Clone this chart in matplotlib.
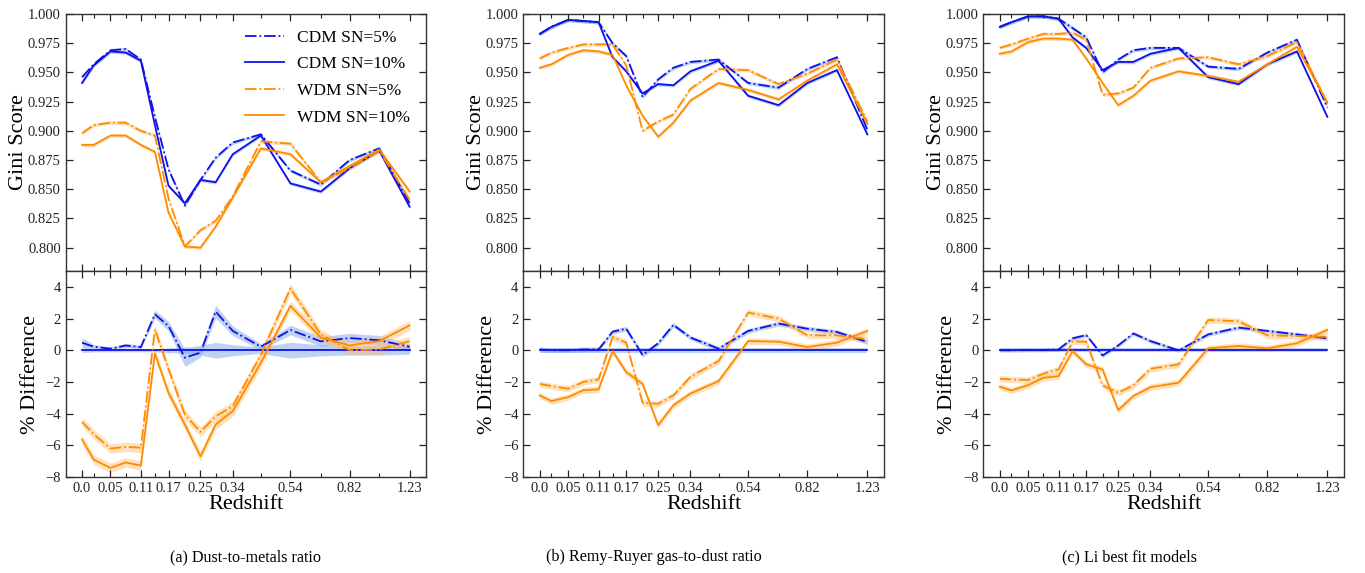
import numpy as np
import matplotlib
matplotlib.use('Agg')
import matplotlib.pyplot as plt

plt.rcParams['font.family'] = ['Liberation Serif', 'DejaVu Serif']
plt.rcParams['mathtext.fontset'] = 'dejavuserif'

# x axis: snapshots placed by lookback time (Gyr), labelled by redshift
lookback = [0.0, 0.30, 0.73, 1.12, 1.51, 1.87, 2.22, 2.64, 3.04, 3.43,
            3.87, 4.59, 5.35, 6.13, 6.87, 7.63, 8.41]
tick_idx = [0, 2, 4, 6, 8, 10, 12, 14, 16]
tick_labels = ['0.0', '0.05', '0.11', '0.17', '0.25', '0.34', '0.54', '0.82', '1.23']

# (a) Dust-to-metals ratio
dtm_cdm5 = [0.946, 0.957, 0.969, 0.970, 0.961, 0.912, 0.867, 0.836, 0.858, 0.877,
            0.890, 0.897, 0.866, 0.854, 0.875, 0.885, 0.838]
dtm_cdm10 = [0.941, 0.956, 0.968, 0.967, 0.960, 0.905, 0.853, 0.838, 0.858, 0.856,
             0.880, 0.896, 0.855, 0.848, 0.868, 0.883, 0.835]
dtm_wdm5 = [0.898, 0.905, 0.907, 0.907, 0.900, 0.896, 0.842, 0.801, 0.815, 0.823,
            0.844, 0.891, 0.889, 0.856, 0.868, 0.883, 0.841]
dtm_wdm10 = [0.888, 0.888, 0.896, 0.896, 0.888, 0.882, 0.830, 0.801, 0.800, 0.818,
             0.843, 0.885, 0.880, 0.856, 0.870, 0.884, 0.848]
dtm_diff_cdm5 = [0.48, 0.22, 0.10, 0.30, 0.20, 2.27, 1.53, -0.47, -0.15, 2.44,
                 1.22, 0.22, 1.28, 0.56, 0.77, 0.63, 0.22]
dtm_diff_wdm5 = [-4.52, -5.30, -6.20, -6.10, -6.15, 1.32, -1.20, -4.06, -5.15, -4.17,
                 -3.53, -0.30, 3.90, 1.00, 0.00, 0.05, 0.58]
dtm_diff_wdm10 = [-5.63, -6.90, -7.43, -7.08, -7.28, -0.20, -2.69, -4.69, -6.70, -4.69,
                  -3.85, -0.80, 2.80, 0.80, 0.30, 0.58, 1.57]
dtm_err_cdm10 = [0.15, 0.10, 0.10, 0.10, 0.10, 0.10, 0.15, 0.20, 0.30, 0.50,
                 0.35, 0.20, 0.50, 0.35, 0.30, 0.30, 0.25]
dtm_err_cdm5 = [0.30, 0.15, 0.10, 0.15, 0.10, 0.25, 0.30, 0.55, 0.30, 0.40,
                0.30, 0.20, 0.30, 0.30, 0.30, 0.30, 0.20]

# (b) Remy-Ruyer gas-to-dust ratio
rr_cdm5 = [0.983, 0.989, 0.995, 0.994, 0.993, 0.975, 0.964, 0.929, 0.944, 0.954,
           0.959, 0.961, 0.941, 0.937, 0.953, 0.963, 0.901]
rr_cdm10 = [0.983, 0.989, 0.995, 0.994, 0.993, 0.963, 0.951, 0.932, 0.940, 0.939,
            0.951, 0.960, 0.930, 0.922, 0.941, 0.952, 0.897]
rr_wdm5 = [0.962, 0.967, 0.971, 0.974, 0.974, 0.974, 0.956, 0.900, 0.908, 0.914,
           0.936, 0.953, 0.952, 0.940, 0.949, 0.961, 0.908]
rr_wdm10 = [0.954, 0.957, 0.965, 0.969, 0.968, 0.965, 0.939, 0.913, 0.895, 0.907,
            0.926, 0.941, 0.935, 0.927, 0.943, 0.957, 0.906]
rr_diff_cdm5 = [0.05, 0.00, 0.00, 0.05, 0.05, 1.17, 1.36, -0.30, 0.44, 1.60,
                0.80, 0.10, 1.22, 1.68, 1.36, 1.15, 0.52]
rr_diff_wdm5 = [-2.12, -2.26, -2.43, -2.00, -1.84, 0.84, 0.48, -3.32, -3.38, -2.85,
                -1.67, -0.68, 2.38, 2.00, 0.94, 0.94, 0.69]
rr_diff_wdm10 = [-2.85, -3.21, -2.96, -2.52, -2.47, -0.05, -1.38, -2.12, -4.73, -3.47,
                 -2.73, -1.95, 0.58, 0.54, 0.20, 0.48, 1.22]

# (c) Li best fit models
li_cdm5 = [0.989, 0.993, 0.998, 0.998, 0.996, 0.988, 0.980, 0.950, 0.961, 0.969,
           0.971, 0.971, 0.955, 0.953, 0.967, 0.978, 0.920]
li_cdm10 = [0.989, 0.993, 0.998, 0.998, 0.996, 0.980, 0.971, 0.952, 0.959, 0.959,
            0.966, 0.971, 0.946, 0.940, 0.957, 0.968, 0.912]
li_wdm5 = [0.971, 0.974, 0.979, 0.983, 0.983, 0.984, 0.978, 0.931, 0.932, 0.937,
           0.954, 0.962, 0.963, 0.957, 0.964, 0.976, 0.924]
li_wdm10 = [0.966, 0.968, 0.976, 0.979, 0.979, 0.978, 0.962, 0.941, 0.922, 0.930,
            0.943, 0.951, 0.947, 0.942, 0.957, 0.972, 0.924]
li_diff_cdm5 = [0.00, 0.00, 0.02, 0.02, 0.05, 0.75, 0.96, -0.33, 0.30, 1.06,
                0.58, -0.01, 1.00, 1.43, 1.22, 1.00, 0.75]
li_diff_wdm5 = [-1.80, -1.84, -1.88, -1.48, -1.21, 0.56, 0.54, -2.22, -2.68, -2.22,
                -1.17, -0.89, 1.91, 1.83, 0.94, 0.90, 0.84]
li_diff_wdm10 = [-2.30, -2.54, -2.20, -1.74, -1.63, -0.05, -0.89, -1.21, -3.78, -2.89,
                 -2.33, -2.05, 0.12, 0.27, 0.12, 0.44, 1.28]

captions = ['(a) Dust-to-metals ratio', '(b) Remy-Ruyer gas-to-dust ratio',
            '(c) Li best fit models']

panels = [
    dict(top=[dtm_cdm5, dtm_cdm10, dtm_wdm5, dtm_wdm10],
         diff=[dtm_diff_cdm5, dtm_diff_wdm5, dtm_diff_wdm10],
         err0=dtm_err_cdm10, err5=dtm_err_cdm5, werr=0.3),
    dict(top=[rr_cdm5, rr_cdm10, rr_wdm5, rr_wdm10],
         diff=[rr_diff_cdm5, rr_diff_wdm5, rr_diff_wdm10],
         err0=0.15, err5=0.15, werr=0.2),
    dict(top=[li_cdm5, li_cdm10, li_wdm5, li_wdm10],
         diff=[li_diff_cdm5, li_diff_wdm5, li_diff_wdm10],
         err0=0.12, err5=0.12, werr=0.2),
]

BLUE = '#1010e8'
ORANGE = '#ff8c00'
BLUE_BAND = '#7fa6ea'
ORANGE_BAND = '#ffbd6b'
labels = ['CDM SN=5%', 'CDM SN=10%', 'WDM SN=5%', 'WDM SN=10%']
colors = [BLUE, BLUE, ORANGE, ORANGE]
bands = [BLUE_BAND, BLUE_BAND, ORANGE_BAND, ORANGE_BAND]
styles = ['-.', '-', '-.', '-']

x = np.array(lookback)


def style_axes(ax):
    ax.set_xticks(x[tick_idx])
    ax.set_xticks(x, minor=True)
    ax.tick_params(which='both', direction='in', top=True, right=True,
                   labelsize=10.5, colors='#222222')
    ax.tick_params(which='major', length=5, width=0.9)
    ax.tick_params(which='minor', length=3, width=0.8)
    for sp in ax.spines.values():
        sp.set_linewidth(1.0)
        sp.set_color('#333333')


fig = plt.figure(figsize=(13.65, 5.73), dpi=100)
lefts = [0.0481, 0.3834, 0.7204]
W = 0.264

for k, p in enumerate(panels):
    ax1 = fig.add_axes([lefts[k], 0.527, W, 0.4485])
    ax2 = fig.add_axes([lefts[k], 0.1675, W, 0.3595], sharex=ax1)

    for vals, c, bc, ls, lab in zip(p['top'], colors, bands, styles, labels):
        v = np.array(vals)
        ax1.fill_between(x, v - 0.0015, v + 0.0015, color=bc, alpha=0.5, lw=0)
        ax1.plot(x, v, ls, color=c, lw=1.3, label=lab)

    ax1.set_ylim(0.78, 1.0)
    ax1.set_yticks(np.arange(0.8, 1.001, 0.025))
    ax1.yaxis.set_major_formatter(matplotlib.ticker.FormatStrFormatter('%.3f'))
    ax1.set_ylabel('Gini Score', fontsize=16)
    style_axes(ax1)
    ax1.tick_params(labelbottom=False)

    zero = np.zeros(len(x))
    e0 = np.broadcast_to(p['err0'], zero.shape)
    e5 = np.broadcast_to(p['err5'], zero.shape)
    d5 = np.array(p['diff'][0])
    ax2.fill_between(x, -e0, e0, color=BLUE_BAND, alpha=0.5, lw=0)
    ax2.fill_between(x, d5 - e5, d5 + e5, color=BLUE_BAND, alpha=0.5, lw=0)
    for vals in p['diff'][1:]:
        v = np.array(vals)
        ax2.fill_between(x, v - p['werr'], v + p['werr'], color=ORANGE_BAND,
                         alpha=0.45, lw=0)
    ax2.plot(x, d5, '-.', color=BLUE, lw=1.3)
    ax2.plot(x, zero, '-', color=BLUE, lw=1.3)
    ax2.plot(x, p['diff'][1], '-.', color=ORANGE, lw=1.3)
    ax2.plot(x, p['diff'][2], '-', color=ORANGE, lw=1.3)

    ax2.set_ylim(-8, 5)
    ax2.set_yticks([-8, -6, -4, -2, 0, 2, 4])
    ax2.set_ylabel('% Difference', fontsize=16)
    style_axes(ax2)
    ax2.set_xticklabels(tick_labels)
    ax2.set_xlabel('Redshift', fontsize=16, labelpad=0)

    ax1.yaxis.set_label_coords(-0.105, 0.5)
    ax2.yaxis.set_label_coords(-0.072, 0.5)

    if k == 0:
        ax1.legend(loc='upper right', frameon=False, fontsize=12.5,
                   handlelength=2.2, labelspacing=0.6)

cap_x = [245 / 1365, 654 / 1365, 1130 / 1365]
for cx, cap in zip(cap_x, captions):
    fig.text(cx, 0.028, cap, ha='center', va='center', fontsize=11.6)

fig.savefig('out.png', dpi=100)
